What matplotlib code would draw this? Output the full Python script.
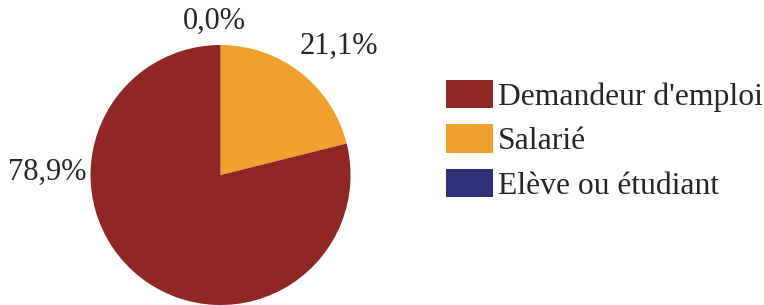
import matplotlib
matplotlib.use("Agg")
import matplotlib.pyplot as plt
from matplotlib.patches import Patch

plt.rcParams["font.family"] = ["Liberation Serif", "DejaVu Serif"]

# données
categories = ["Salarié", "Demandeur d'emploi", "Elève ou étudiant"]
valeurs = [21.1, 78.9, 0.0]
couleurs = ["#F0A02B", "#912724", "#2E3179"]
legende_ordre = [1, 0, 2]

fig = plt.figure(figsize=(7.64, 3.05), dpi=100)
ax = fig.add_axes([0.1185, 0.0, 260 / 764, 260 / 305])

wedges, _ = ax.pie(valeurs, colors=couleurs, startangle=90, counterclock=False,
                   radius=1, wedgeprops=dict(linewidth=0))
ax.set_xlim(-1, 1)
ax.set_ylim(-1, 1)
ax.set_aspect("equal")

# étiquettes des pourcentages
pos_labels = [(0.91, 0.99), (-1.33, 0.02), (-0.05, 1.18)]
for v, (x, y) in zip(valeurs, pos_labels):
    ax.text(x, y, f"{v:.1f}%".replace(".", ","), ha="center", va="center",
            fontsize=22, color="#262626", clip_on=False)

handles = [Patch(facecolor=couleurs[i], label=categories[i]) for i in legende_ordre]
fig.legend(handles=handles, loc="center left", bbox_to_anchor=(0.584, 0.54),
           frameon=False, fontsize=22.8, handlelength=1.48, handleheight=1.0,
           handletextpad=0.15, labelspacing=0.4, borderaxespad=0, borderpad=0,
           labelcolor="#262626")

fig.savefig("out.png", dpi=100)
